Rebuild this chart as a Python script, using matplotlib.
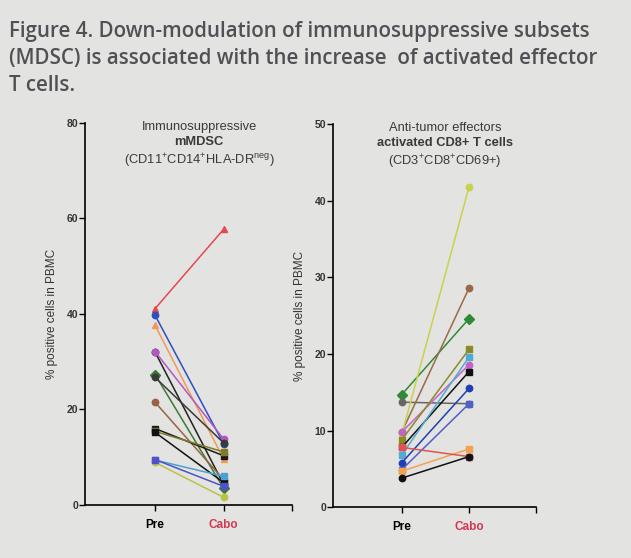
import matplotlib
matplotlib.use("Agg")
import matplotlib.pyplot as plt

plt.rcParams['font.family'] = ['Liberation Sans', 'DejaVu Sans']
plt.rcParams['mathtext.fontset'] = 'custom'
plt.rcParams['mathtext.rm'] = 'Liberation Sans'
plt.rcParams['mathtext.it'] = 'Liberation Sans'

# x categories
groups = ["Pre", "Cabo"]

# left panel: mMDSC (% positive cells in PBMC), one row per patient
mdsc_pre = [41.1, 39.7, 37.6, 32.0, 32.1, 27.3, 26.7, 21.5, 16.0, 15.4, 15.2, 9.4, 8.9, 9.5]
mdsc_cabo = [57.7, 12.8, 9.6, 4.3, 13.8, 3.5, 13.0, 5.3, 10.3, 11.1, 4.7, 6.0, 1.6, 3.9]
mdsc_colors = ['#e5484d', '#2d4fc0', '#f29a55', '#222222', '#b457c2', '#3b7a36', '#3a3a3a',
               '#9a6244', '#1a1a1a', '#7e7c2a', '#111111', '#4aa2d4', '#bcc245', '#4f52c8']
mdsc_markers = ['^', 'o', '^', 'o', 'o', 'D', 'o', 'o', 's', 's', 's', 's', 'o', 's']

# right panel: activated CD8+ T cells
cd8_pre = [14.7, 13.7, 9.8, 9.5, 9.8, 8.8, 7.8, 6.8, 5.8, 4.9, 4.7, 7.8, 3.8]
cd8_cabo = [24.6, 13.5, 28.6, 41.8, 18.6, 20.6, 17.7, 19.6, 15.5, 13.5, 7.6, 6.6, 6.6]
cd8_colors = ['#2f8a33', '#666666', '#9a6a48', '#c8d24a', '#c462cc', '#8a8a28', '#111111',
              '#52aad4', '#2040b0', '#5060c8', '#f2a352', '#e25252', '#111111']
cd8_markers = ['D', 'o', 'o', 'o', 'o', 's', 's', 's', 'o', 's', 's', 's', 'o']

bg = '#e3e3e1'
fig = plt.figure(figsize=(6.31, 5.58), dpi=100, facecolor=bg)

fig.text(0.014, 0.962,
         "Figure 4. Down-modulation of immunosuppressive subsets\n"
         "(MDSC) is associated with the increase  of activated effector\n"
         "T cells.",
         family=['Open Sans', 'DejaVu Sans'], fontsize=14.8, fontweight='semibold',
         color='#505055', va='top', ha='left', linespacing=1.36)


def panel(rect, pre, cabo, colors, markers, ymax, ystep, title_lines):
    ax = fig.add_axes(rect)
    ax.set_facecolor(bg)
    for p, c, col, m in zip(pre, cabo, colors, markers):
        ax.plot([0, 1], [p, c], color=col, lw=1.1, marker=m, ms=4.6, zorder=3)
    ax.set_xlim(-1.02, 2.0)
    ax.set_ylim(0, ymax)
    ax.set_yticks(range(0, ymax + 1, ystep))
    ax.set_xticks([0, 1])
    ax.set_xticks([2], minor=True)
    ax.set_xticklabels(groups, fontsize=8.5, fontweight='bold')
    ax.get_xticklabels()[1].set_color('#d03a52')
    ax.tick_params(axis='x', which='both', length=4, width=1, color='black', pad=6)
    ax.tick_params(axis='y', length=4, width=1, labelsize=7.5, pad=1)
    for lab in ax.get_yticklabels():
        lab.set_fontweight('bold')
        lab.set_color('#333333')
    for s in ['top', 'right']:
        ax.spines[s].set_visible(False)
    for s in ['left', 'bottom']:
        ax.spines[s].set_linewidth(1.2)
    ax.set_ylabel("% positive cells in PBMC", fontsize=8.5, color='#333333', labelpad=6)
    y0 = 1.005
    for txt, w in title_lines:
        ax.text(0.55, y0, txt, transform=ax.transAxes, ha='center', va='top',
                fontsize=9.3, fontweight=w, color='#3a3a3a')
        y0 -= 0.04
    return ax


panel([0.135, 0.095, 0.328, 0.685], mdsc_pre, mdsc_cabo, mdsc_colors, mdsc_markers, 80, 20,
      [("Immunosuppressive", 'normal'), ("mMDSC", 'bold'),
       (r"(CD11$^{+}$CD14$^{+}$HLA-DR$^{neg}$)", 'normal')])

panel([0.528, 0.091, 0.322, 0.687], cd8_pre, cd8_cabo, cd8_colors, cd8_markers, 50, 10,
      [("Anti-tumor effectors", 'normal'), ("activated CD8+ T cells", 'bold'),
       (r"(CD3$^{+}$CD8$^{+}$CD69+)", 'normal')])

fig.savefig("out.png", dpi=100, facecolor=bg)
